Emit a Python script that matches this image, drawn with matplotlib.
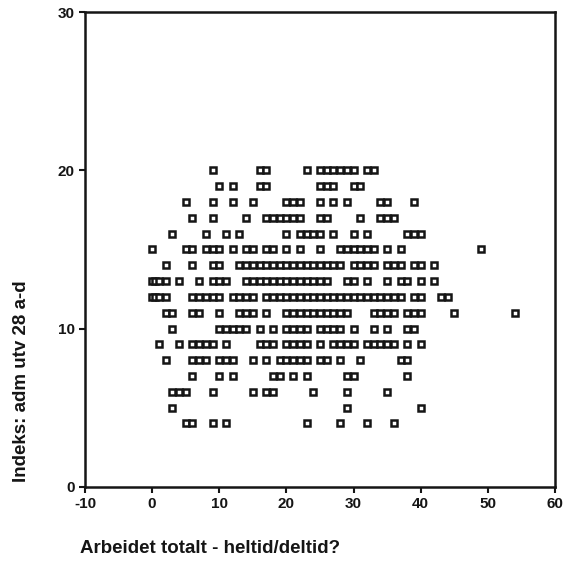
import numpy as np
import matplotlib
matplotlib.use("Agg")
import matplotlib.pyplot as plt

# ── Data: x values, one list per index level (y) ─────────────────────────────
x_at_20 = [9, 16, 17, 23, 25, 26, 27, 28, 29, 30, 32, 33]
x_at_19 = [10, 12, 16, 17, 25, 26, 27, 30, 31]
x_at_18 = [5, 9, 12, 15, 20, 21, 22, 25, 27, 29, 34, 35, 39]
x_at_17 = [6, 9, 14, 17, 18, 19, 20, 21, 22, 25, 26, 31, 34, 35, 36]
x_at_16 = [3, 8, 11, 13, 20, 22, 23, 24, 25, 27, 30, 32, 38, 39, 40]
x_at_15 = [0, 5, 6, 8, 9, 10, 12, 14, 15, 17, 18, 20, 22, 25,
           28, 29, 30, 31, 32, 33, 35, 37, 49]
x_at_14 = [2, 6, 9, 10, 13, 14, 15, 16, 17, 18, 19, 20, 21, 22, 23, 24,
           25, 26, 27, 28, 30, 31, 32, 33, 35, 36, 37, 39, 40, 42]
x_at_13 = [0, 0.5, 1, 2, 4, 7, 9, 10, 11, 14, 15, 16, 17, 18, 19, 20, 21,
           22, 23, 24, 25, 26, 29, 30, 32, 35, 37, 38, 40, 42]
x_at_12 = [0, 0.5, 1, 2, 6, 7, 8, 9, 10, 12, 13, 14, 15, 17, 18, 19, 20,
           21, 22, 23, 24, 25, 26, 27, 28, 29, 30, 31, 32, 33, 34, 35, 36,
           37, 39, 40, 43, 44]
x_at_11 = [2, 3, 6, 7, 10, 13, 14, 15, 17, 20, 21, 22, 23, 24, 25, 26, 27,
           28, 29, 33, 34, 35, 36, 38, 39, 40, 45, 54]
x_at_10 = [3, 10, 11, 12, 13, 14, 16, 18, 20, 21, 22, 23, 25, 26, 27, 28,
           30, 33, 35, 38, 39]
x_at_9 = [1, 4, 6, 7, 8, 9, 11, 16, 17, 18, 20, 21, 22, 23, 25, 27, 28,
          29, 30, 32, 33, 34, 35, 36, 38, 40]
x_at_8 = [2, 6, 7, 8, 10, 11, 12, 15, 17, 19, 20, 21, 22, 23, 25, 26, 28,
          31, 37, 38]
x_at_7 = [6, 10, 12, 18, 19, 21, 23, 29, 30, 38]
x_at_6 = [3, 4, 5, 9, 15, 17, 18, 24, 29, 35]
x_at_5 = [3, 29, 40]
x_at_4 = [5, 6, 9, 11, 23, 28, 32, 36]

rows = {20: x_at_20, 19: x_at_19, 18: x_at_18, 17: x_at_17, 16: x_at_16,
        15: x_at_15, 14: x_at_14, 13: x_at_13, 12: x_at_12, 11: x_at_11,
        10: x_at_10, 9: x_at_9, 8: x_at_8, 7: x_at_7, 6: x_at_6,
        5: x_at_5, 4: x_at_4}

x_ticks = [-10, 0, 10, 20, 30, 40, 50, 60]
y_ticks = [0, 10, 20, 30]

xs = np.concatenate([np.asarray(v, dtype=float) for v in rows.values()])
ys = np.concatenate([np.full(len(v), k, dtype=float) for k, v in rows.items()])

# ── Figure ────────────────────────────────────────────────────────────────────
plt.rcParams["font.family"] = ["Liberation Sans", "DejaVu Sans"]
plt.rcParams["font.weight"] = "bold"
plt.rcParams["axes.unicode_minus"] = False

fig = plt.figure(figsize=(5.74, 5.74), dpi=100)
ax = fig.add_axes([0.148, 0.152, 0.819, 0.827])

ax.plot(xs, ys, linestyle="none", marker="s", markersize=4.8,
        markerfacecolor="white", markeredgecolor="#151515",
        markeredgewidth=1.8)

ax.set_xlim(-10, 60)
ax.set_ylim(0, 30)
ax.set_xticks(x_ticks)
ax.set_yticks(y_ticks)
ax.tick_params(direction="out", length=4, width=1.5, labelsize=11,
               colors="#151515")
for lab in ax.get_xticklabels() + ax.get_yticklabels():
    lab.set_fontweight("bold")
for side in ax.spines.values():
    side.set_linewidth(1.8)
    side.set_color("#151515")

fig.text(0.038, 0.336, "Indeks: adm utv 28 a-d", rotation=90,
         ha="center", va="center", fontsize=13.5, fontweight="bold",
         color="#151515")
fig.text(0.14, 0.045, "Arbeidet totalt - heltid/deltid?", ha="left",
         va="center", fontsize=13.5, fontweight="bold", color="#151515")

fig.savefig("out.png", dpi=100)
